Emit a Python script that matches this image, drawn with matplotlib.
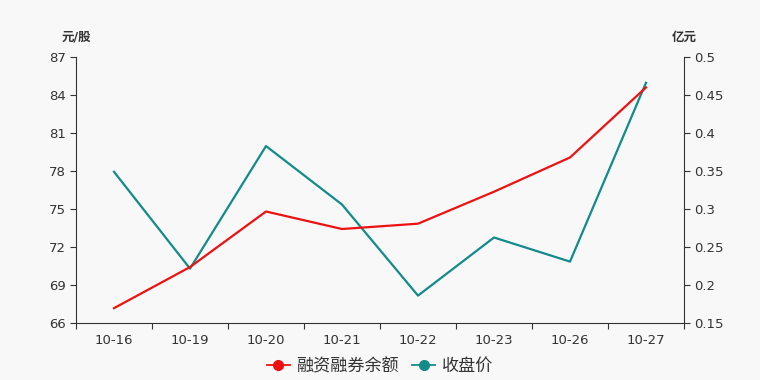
import matplotlib
matplotlib.use('Agg')
import matplotlib.pyplot as plt
from matplotlib.lines import Line2D
import numpy as np

plt.rcParams['font.family'] = ['DejaVu Sans', 'Noto Sans CJK SC']

# Data
dates = ['10-16', '10-19', '10-20', '10-21', '10-22', '10-23', '10-26', '10-27']
close_price = [77.95, 70.32, 79.98, 75.37, 68.19, 72.77, 70.87, 84.97]   # 元/股
margin_balance = [0.170, 0.224, 0.297, 0.274, 0.281, 0.323, 0.368, 0.460]  # 亿元

left_ticks = [66, 69, 72, 75, 78, 81, 84, 87]
right_ticks = [0.15, 0.2, 0.25, 0.3, 0.35, 0.4, 0.45, 0.5]

bg = '#f8f8f8'
text_c = '#333333'
axis_c = '#333333'
red = '#ee1111'
teal = '#138b8b'

fig = plt.figure(figsize=(7.6, 3.8), dpi=100, facecolor=bg)
ax = fig.add_axes([0.1, 0.149, 0.8, 0.701], facecolor=bg)
ax2 = ax.twinx()

x = np.arange(len(dates))
ax.plot(x, close_price, color=teal, lw=1.6, zorder=3)
ax2.plot(x, margin_balance, color=red, lw=1.6, zorder=2)

ax.set_xlim(-0.5, len(dates) - 0.5)
ax.set_ylim(66, 87)
ax2.set_ylim(0.15, 0.5)
ax.set_yticks(left_ticks)
ax.set_yticklabels([str(v) for v in left_ticks])
ax2.set_yticks(right_ticks)
ax2.set_yticklabels([f'{v:g}' for v in right_ticks])

# category labels centred, tick marks on band edges
ax.set_xticks(x)
ax.set_xticklabels(dates)
ax.tick_params(axis='x', length=0, pad=8)
ax.set_xticks(np.arange(-0.5, len(dates)), minor=True)
ax.tick_params(axis='x', which='minor', length=4, color=axis_c, width=0.8)

for a in (ax, ax2):
    for s in a.spines.values():
        s.set_visible(False)
    a.tick_params(axis='y', labelsize=9.5, colors=text_c, length=4, width=0.8)
    a.tick_params(axis='x', labelsize=9.5, colors=text_c)
ax.spines['left'].set_visible(True)
ax.spines['left'].set_color(axis_c)
ax.spines['bottom'].set_visible(True)
ax.spines['bottom'].set_color(axis_c)
ax2.spines['right'].set_visible(True)
ax2.spines['right'].set_color(axis_c)
ax.tick_params(axis='y', color=axis_c)
ax2.tick_params(axis='y', color=axis_c)

fig.text(76 / 760, 1 - 37 / 380, '元/股', ha='center', va='center',
         fontsize=9, color=text_c, fontweight='bold')
fig.text(684 / 760, 1 - 37 / 380, '亿元', ha='center', va='center',
         fontsize=9, color=text_c, fontweight='bold')

handles = [
    Line2D([0], [0], color=red, lw=1.3, marker='o', markersize=7),
    Line2D([0], [0], color=teal, lw=1.3, marker='o', markersize=7),
]
fig.legend(handles, ['融资融券余额', '收盘价'], loc='center',
           bbox_to_anchor=(380 / 760, 1 - 366 / 380), ncol=2, frameon=False,
           fontsize=12.3, handlelength=1.35, handletextpad=0.4, columnspacing=0.75,
           labelcolor=text_c)

fig.savefig('out.png', dpi=100, facecolor=bg)
